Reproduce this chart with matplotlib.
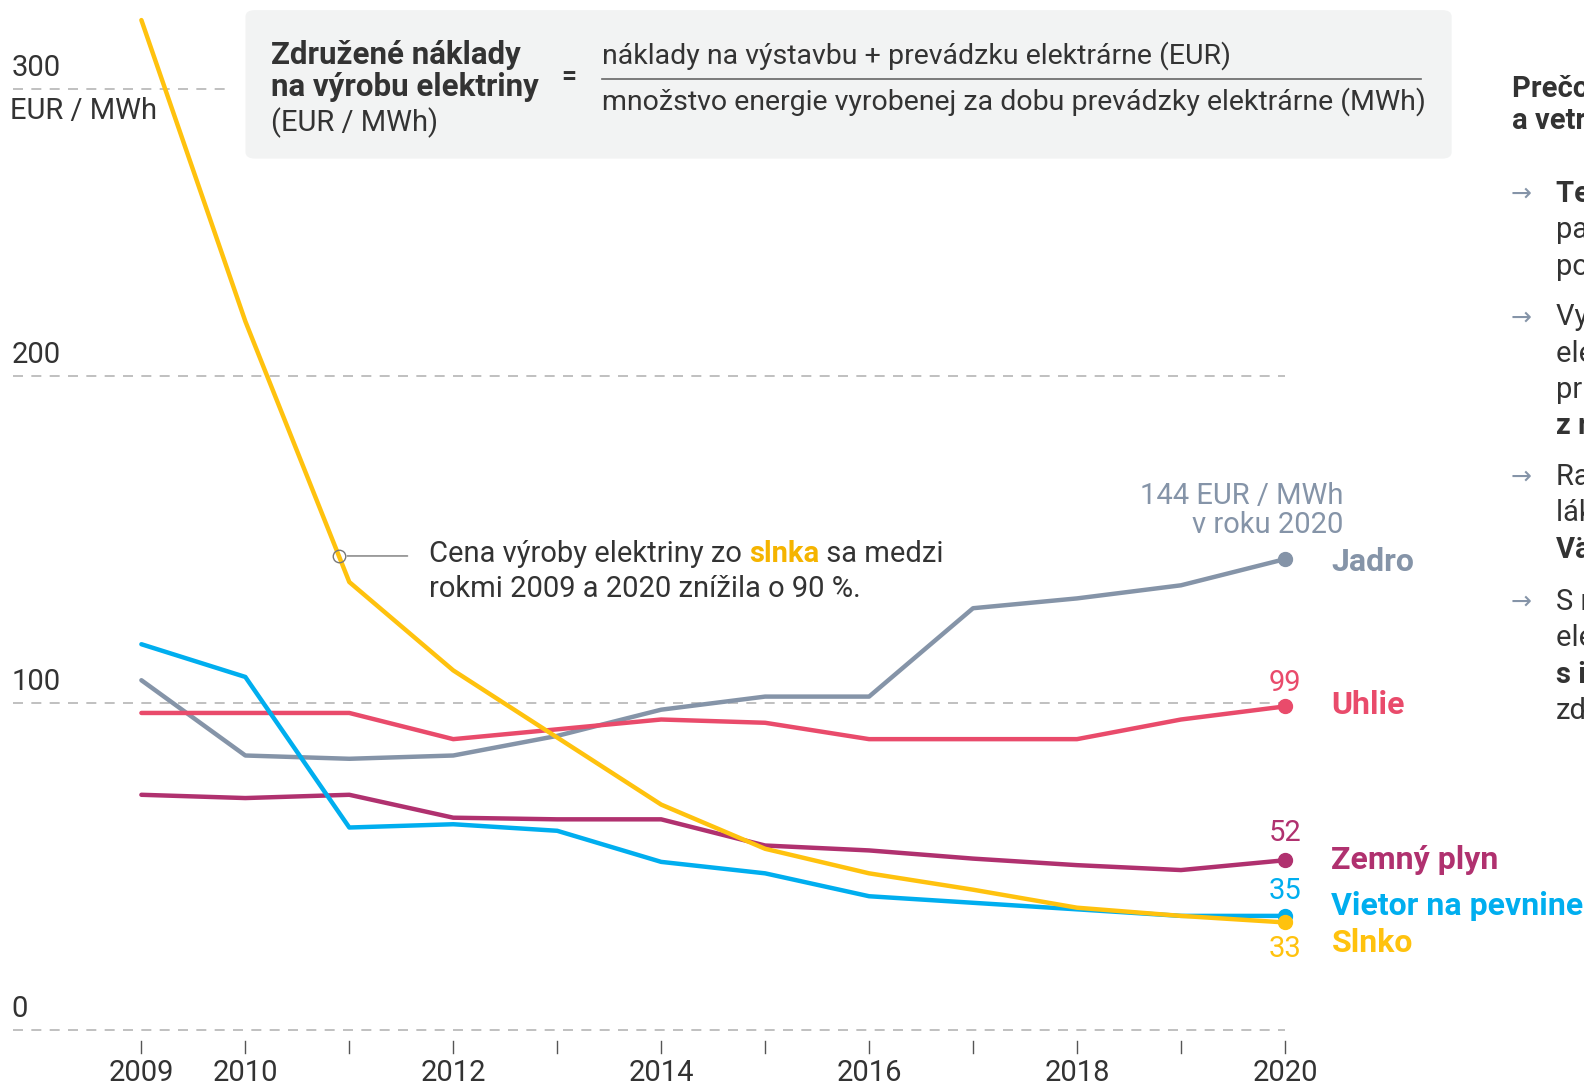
import numpy as np
import matplotlib
matplotlib.use("Agg")
import matplotlib.pyplot as plt
from matplotlib.patches import FancyBboxPatch

plt.rcParams['font.family'] = ['Roboto', 'DejaVu Sans']

# data (EUR / MWh)
years = list(range(2009, 2021))
jadro = [107, 84, 83, 84, 90, 98, 102, 102, 129, 132, 136, 144]
uhlie = [97, 97, 97, 89, 92, 95, 94, 89, 89, 89, 95, 99]
plyn = [72, 71, 72, 65, 64.5, 64.5, 56.5, 55, 52.5, 50.5, 49, 52]
vietor = [118, 108, 62, 63, 61, 51.5, 48, 41, 39, 37, 35, 35]
slnko = [324, 219, 137, 110, 89.5, 69, 55.5, 48, 43, 37.5, 35, 33]

names = ['Jadro', 'Uhlie', 'Zemný plyn', 'Vietor na pevnine', 'Slnko']
series = [jadro, uhlie, plyn, vietor, slnko]
colors = ['#8594a8', '#e94b6b', '#b0316f', '#00aeef', '#ffc20e']
yticks = [0, 100, 200, 300]
xtick_labels = [2009, 2010, 2012, 2014, 2016, 2018, 2020]

TXT = '#333333'
LW = 'normal'
W, H = 1568, 1076          # layout measured on this grid
PT = 1584 / 1568 * 0.72    # display px -> points
FS = 21                    # body text size


def fwd(y):
    y = np.asarray(y, dtype=float)
    return np.where(y <= 200, y, 200 + (y - 200) * 2.84 / 3.24)


def inv(t):
    t = np.asarray(t, dtype=float)
    return np.where(t <= 200, t, 200 + (t - 200) * 3.24 / 2.84)


fig = plt.figure(figsize=(15.84, 10.87), dpi=100)
ax = fig.add_axes([0, 0, 1, 1])
ax.set_yscale('function', functions=(fwd, inv))
ax.set_xlim(2007.640, 2022.877)
ax.set_ylim(-17.28, 331.0)
ax.axis('off')

x_left = 2009 - 127 / 102.9

# gridlines
for v in yticks:
    x_end = 2009 + (225 - 140) / 102.9 if v == 300 else 2020
    ax.plot([x_left, x_end], [v, v], color='#b5b5b5', lw=1.2,
            dashes=(6, 5), zorder=1)
    ax.annotate(str(v), (x_left, v), xytext=(-1, 5), textcoords='offset points',
                ha='left', va='bottom', fontsize=FS, color=TXT, fontweight=LW)
ax.annotate('EUR / MWh', (x_left, 300), xytext=(-2, -6), textcoords='offset points',
            ha='left', va='top', fontsize=FS, color=TXT, fontweight=LW)

# x ticks
for yr in years:
    ax.plot([yr, yr], [inv(-(1030 - 1020) / 3.24), inv(-(1042 - 1020) / 3.24)],
            color='#555555', lw=1, zorder=1)
for yr in xtick_labels:
    ax.annotate(str(yr), (yr, 0), xytext=(0, -42 * PT), textcoords='offset points',
                ha='center', va='center', fontsize=FS, color=TXT, fontweight=LW)

# lines
for vals, col in zip(series, colors):
    ax.plot(years, vals, color=col, lw=3.2, solid_capstyle='round',
            solid_joinstyle='round', zorder=3)
for vals, col in zip(series, colors):
    ax.plot(years[-1], vals[-1], 'o', color=col, ms=10, zorder=4)

# end labels
name_dy = [-3, 1, 0, 10, -20]
val_dy = [None, 23, 27, 25, -26]
for vals, col, nm, ndy, vdy in zip(series, colors, names, name_dy, val_dy):
    ax.annotate(nm, (2020, vals[-1]), xytext=(46 * PT, ndy * PT), textcoords='offset points',
                ha='left', va='center', fontsize=23, fontweight='bold', color=col)
    if vdy is not None:
        ax.annotate(f'{vals[-1]:g}', (2020, vals[-1]), xytext=(0, vdy * PT),
                    textcoords='offset points', ha='center', va='center',
                    fontsize=FS, color=col, fontweight=LW)
ax.annotate(f'{jadro[-1]} EUR / MWh', (2020, jadro[-1]), xytext=(58 * PT, 62 * PT),
            textcoords='offset points', ha='right', va='center', fontsize=FS,
            color=colors[0])
ax.annotate('v roku 2020', (2020, jadro[-1]), xytext=(58 * PT, 34 * PT),
            textcoords='offset points', ha='right', va='center', fontsize=FS,
            color=colors[0], fontweight=LW)

# annotation on solar
ann_x = 2010.9
ann_y = float(np.interp(ann_x, [2010, 2011], [fwd(slnko[1]), fwd(slnko[2])]))
ann_y = float(inv(ann_y))
ax.plot(ann_x, ann_y, 'o', ms=9, mfc='none', mec='#777777', mew=1, zorder=5)
ax.annotate('', (ann_x, ann_y), xytext=(ann_x + 68 / 102.9, ann_y),
            arrowprops=dict(arrowstyle='-', color='#777777', lw=1, shrinkA=0, shrinkB=6))
tx = ann_x + 89 / 102.9
t1 = ax.annotate('Cena výroby elektriny zo ', (tx, ann_y), xytext=(0, 2 * PT),
                 textcoords='offset points', fontsize=FS, color=TXT,
                 ha='left', va='center', fontweight=LW)
fig.canvas.draw()
r = fig.canvas.get_renderer()
bb = t1.get_window_extent(r)
x2 = ax.transData.inverted().transform((bb.x1, bb.y0))[0]
t2 = ax.annotate('slnka', (x2, ann_y), xytext=(0, 2 * PT), textcoords='offset points',
                 fontsize=FS, color='#f5b400', fontweight='bold', ha='left', va='center')
bb2 = t2.get_window_extent(r)
x3 = ax.transData.inverted().transform((bb2.x1, bb2.y0))[0]
ax.annotate(' sa medzi', (x3, ann_y), xytext=(0, 2 * PT), textcoords='offset points',
            fontsize=FS, color=TXT, ha='left', va='center', fontweight=LW)
ax.annotate('rokmi 2009 a 2020 znížila o 90 %.', (tx, ann_y), xytext=(0, -33 * PT),
            textcoords='offset points', fontsize=FS, color=TXT, ha='left', va='center',
            fontweight=LW)

# formula box
box = FancyBboxPatch((243 / W, 1 - 157 / H), (1437 - 243) / W, 147 / H,
                     boxstyle='round,pad=0,rounding_size=0.006',
                     transform=fig.transFigure, fc='#f2f3f3', ec='none', zorder=0)
fig.patches.append(box)
fig.text(268 / W, 1 - 54 / H, 'Združené náklady', fontsize=22.5, fontweight='bold',
         color=TXT, va='center')
fig.text(268 / W, 1 - 86 / H, 'na výrobu elektriny', fontsize=22.5, fontweight='bold',
         color=TXT, va='center')
fig.text(268 / W, 1 - 121 / H, '(EUR / MWh)', fontsize=FS, color=TXT, va='center',
         fontweight=LW)
fig.text(563 / W, 1 - 76 / H, '=', fontsize=19, fontweight='bold', color=TXT,
         ha='center', va='center')
fig.text(596 / W, 1 - 55 / H, 'náklady na výstavbu + prevádzku elektrárne (EUR)',
         fontsize=20.5, color=TXT, va='center', fontweight=LW)
fig.lines.append(plt.Line2D([596 / W, 1407 / W], [1 - 78 / H, 1 - 78 / H],
                            transform=fig.transFigure, color='#666666', lw=1.2))
fig.text(596 / W, 1 - 101 / H, 'množstvo energie vyrobenej za dobu prevádzky elektrárne (MWh)',
         fontsize=20.5, color=TXT, va='center', fontweight=LW)

# side panel (cut off at the edge, as in the source)
fig.text(1497 / W, 1 - 88 / H, 'Prečo je elektrina zo slnka', fontsize=FS,
         fontweight='bold', color=TXT, va='center')
fig.text(1497 / W, 1 - 120 / H, 'a vetra čoraz lacnejšia?', fontsize=FS,
         fontweight='bold', color=TXT, va='center')
bullets = [
    (192, [('Technológie zlacneli', True), ('panely aj turbíny sú', False),
           ('podstatne účinnejšie', False)]),
    (314, [('Vyrába sa viac', False), ('elektriny z obnoviteľných', False),
           ('prináša to úspory', False), ('z rozsahu', True)]),
    (472, [('Rastúci dopyt', False), ('láka investorov', False),
           ('Väčšia konkurencia', True)]),
    (596, [('S rastom výroby', False), ('elektriny klesá cena', False),
           ('s istotou', True), ('zdrojov', False)]),
]
for y0, lines in bullets:
    fig.text(1506 / W, 1 - y0 / H, '→', fontsize=18, color='#8594a8',
             ha='center', va='center', family=['DejaVu Sans'])
    for i, (s, b) in enumerate(lines):
        fig.text(1540 / W, 1 - (y0 + 36 * i) / H, s, fontsize=FS, color=TXT,
                 fontweight='bold' if b else LW, va='center')

fig.savefig('out.png', dpi=100)
